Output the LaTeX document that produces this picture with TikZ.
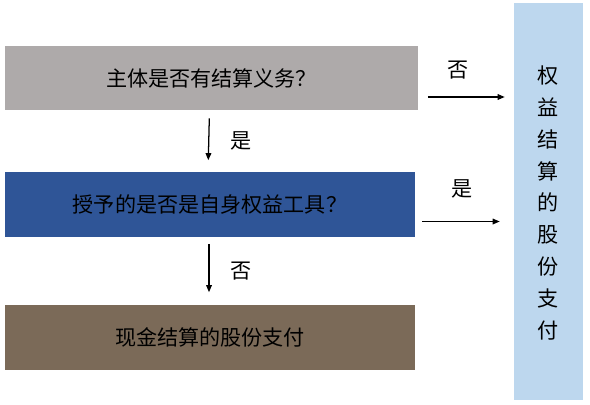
\documentclass[tikz,border=0pt]{standalone}
\usepackage{fontspec}
\setmainfont{Noto Sans CJK SC}
\usetikzlibrary{positioning, arrows.meta}
\definecolor{boxgray}{HTML}{AEAAAA}
\definecolor{boxblue}{HTML}{2F5597}
\definecolor{boxbrown}{HTML}{7B6A58}
\definecolor{paleblue}{HTML}{BDD7EE}

\begin{document}
\begin{tikzpicture}[
  x=0.025cm, y=-0.025cm,
  every node/.style={font=\fontsize{15}{18}\selectfont, text=black},
  question/.style={
    minimum width=10.3cm,
    minimum height=1.6cm,
    inner sep=0pt,
  },
  result/.style={
    fill=paleblue,
    minimum width=1.725cm,
    minimum height=9.925cm,
    inner sep=0pt,
    align=center,
  },
  link/.style={
    -{Triangle[length=5pt, width=4pt]},
    line width=0.9pt,
  },
  arrowlabel/.style={
    inner sep=2pt,
  },
]
  \useasboundingbox (0,0) rectangle (590,405);

  \node[question, fill=boxgray] (duty) at (211.5,78) {主体是否有结算义务？};
  \node[question, fill=boxblue, minimum width=10.25cm] (own) at (210,204.5) {授予的是否是自身权益工具？};
  \node[question, fill=boxbrown, minimum width=10.25cm] (cash) at (210,337.5) {现金结算的股份支付};
  \node[result] (equity) at (548.5,201.5) {};
  \node[align=center, font=\fontsize{15}{22.7}\selectfont] (equitytext) at (548.5,203)
    {权\\益\\结\\算\\的\\股\\份\\支\\付};

  \draw[link, shorten <=0.2cm, shorten >=0.3cm] ([xshift=-0.05cm]duty.south) -- ([xshift=-0.05cm]own.north)
    node[arrowlabel, midway, right=0.45cm] {是};
  \draw[link, shorten <=0.175cm, shorten >=0.325cm] ([xshift=-0.025cm]own.south) -- ([xshift=-0.025cm]cash.north)
    node[arrowlabel, midway, right=0.45cm] {否};

  \draw[link, shorten <=0.25cm, shorten >=0.225cm] ([yshift=-0.475cm]duty.east) -- ([yshift=-0.475cm]duty.east -| equity.west)
    node[arrowlabel, midway, above=0.35cm, xshift=-0.2cm] {否};
  \draw[link, shorten <=0.175cm, shorten >=0.35cm] ([yshift=-0.425cm]own.east) -- ([yshift=-0.425cm]own.east -| equity.west)
    node[arrowlabel, midway, above=0.5cm, xshift=-0.05cm] {是};
\end{tikzpicture}
\end{document}
